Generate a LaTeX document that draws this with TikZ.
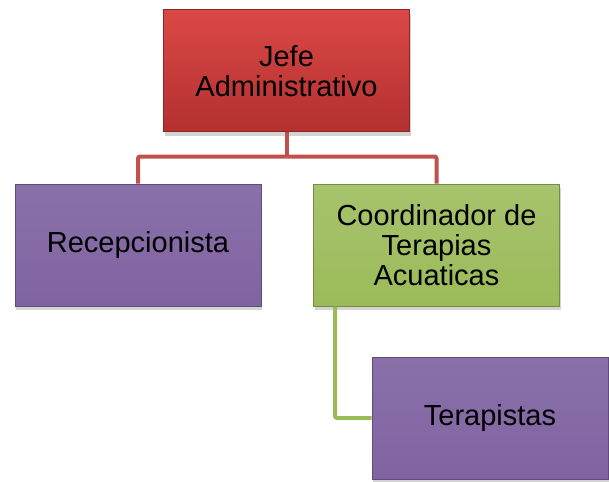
\documentclass[tikz,border=0pt]{standalone}
\usepackage{fontspec}
\setmainfont{Liberation Sans}
\usetikzlibrary{shadows}

\definecolor{jefetop}{HTML}{DA4846}
\definecolor{jefebottom}{HTML}{B3302F}
\definecolor{linered}{HTML}{C0504D}
\definecolor{orgpurple}{HTML}{8064A2}
\definecolor{orggreen}{HTML}{9BBB59}

\begin{document}
\begin{tikzpicture}[
    x=1pt, y=-1pt, % Pixel-like units, y downwards
    % Define box style
    box style/.style={
        rectangle, % Rectangle shape
        minimum width=246pt, % Minimum width
        minimum height=122pt, % Minimum height
        align=center, % Center alignment
        line width=1pt,
        font=\fontsize{29}{30}\selectfont,
        drop shadow={opacity=0.35, shadow xshift=1pt, shadow yshift=-4pt}
      },
    % Box colours
    red box/.style={box style, draw=jefebottom!80!black, top color=jefetop, bottom color=jefebottom},
    purple box/.style={box style, draw=orgpurple!75!black, top color=orgpurple!92!white, bottom color=orgpurple},
    green box/.style={box style, draw=orggreen!75!black, top color=orggreen!88!white, bottom color=orggreen},
    % Define connector styles
    red line/.style={draw=linered, line width=4pt, rounded corners=2pt},
    green line/.style={draw=orggreen, line width=4pt, rounded corners=2pt}
  ]

  % Fix the picture size
  \useasboundingbox (0,0) rectangle (609,481);

  % Define nodes
  \node[red box] (Jefe) at (286.5,71) {Jefe\\Administrativo}; % Top box
  \node[purple box] (Recepcionista) at (138,245) {Recepcionista}; % Left box
  \node[green box] (Coordinador) at (436.5,245) {Coordinador de\\Terapias\\Acuaticas}; % Right box
  \node[purple box, minimum width=236pt] (Terapistas) at (490,418) {Terapistas}; % Bottom right box

  % Branch point under the top box
  \coordinate (Fork) at ([yshift=-24pt]Jefe.south);

  % Draw connectors
  \draw[red line] (Jefe.south) -- (Fork);
  \draw[red line] (Fork) -| (Recepcionista.north);
  \draw[red line] (Fork) -| (Coordinador.north);

  % Coordinador to Terapistas
  \draw[green line] ([xshift=22pt]Coordinador.south west) |- (Terapistas.west);

\end{tikzpicture}
\end{document}
